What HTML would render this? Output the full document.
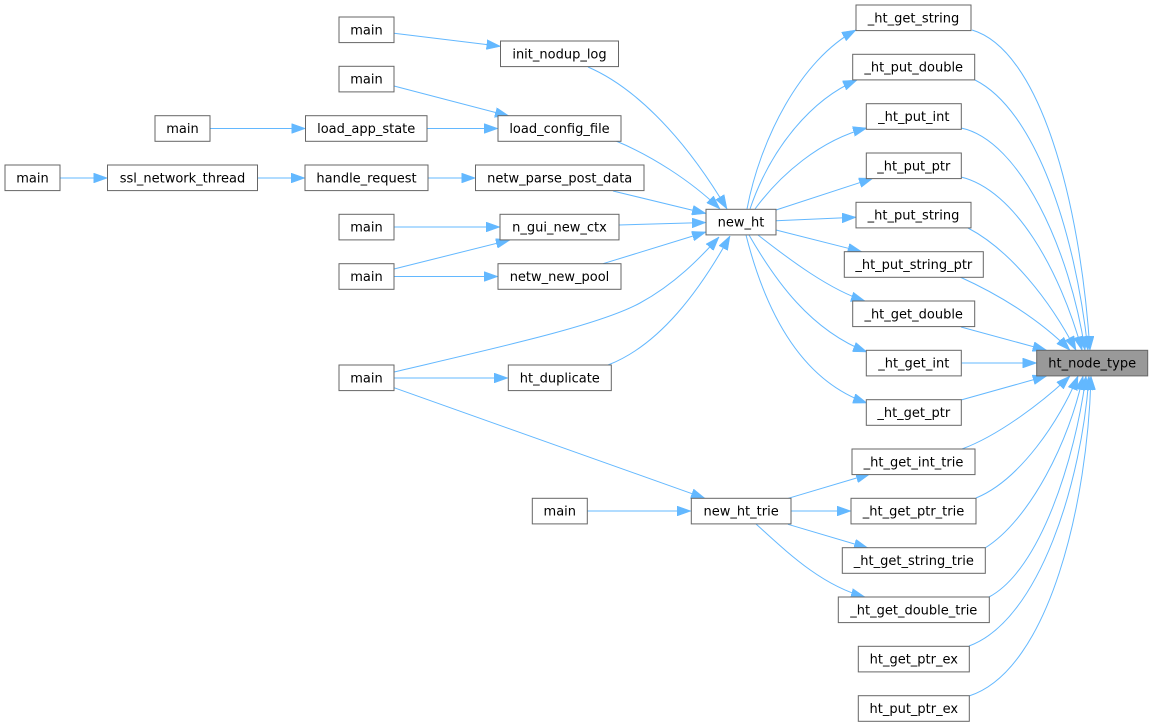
<!DOCTYPE html>
<html>
<head>
<meta charset="utf-8">
<style>
html,body{margin:0;padding:0;background:#fff;}
svg{display:block;}
text{font-family:"DejaVu Sans","Liberation Sans",sans-serif;font-size:13px;fill:#000;text-anchor:middle;}
.n{fill:#fff;stroke:#666;stroke-width:1;}
.e{fill:none;stroke:#63b8ff;stroke-width:1;marker-end:url(#ah);}
</style>
</head>
<body>
<svg width="1153" height="727" viewBox="0 0 1153 727" xmlns="http://www.w3.org/2000/svg">
<defs>
<marker id="ah" markerUnits="userSpaceOnUse" markerWidth="14" markerHeight="10" viewBox="0 0 13.3 9.4" refX="13.3" refY="4.7" orient="auto">
<polygon points="0,0 13.3,4.7 0,9.4" fill="#63b8ff" stroke="#63b8ff" stroke-width="0.5"/>
</marker>
</defs>

<!-- edges left side -->
<path class="e" d="M394,33.3 L500.5,46.3"/>
<path class="e" d="M394,86 L509,116"/>
<path class="e" d="M210,128.5 L305.5,128.5"/>
<path class="e" d="M427,128.5 L498,128.5"/>
<path class="e" d="M60,178 L107.5,178"/>
<path class="e" d="M257.5,178 L305,178"/>
<path class="e" d="M428,178 L475.5,178"/>
<path class="e" d="M394,227 L500,227"/>
<path class="e" d="M394,269 L510,240"/>
<path class="e" d="M394,276.5 L498,276.5"/>
<path class="e" d="M588,67 C630,85 680,130 727,209"/>
<path class="e" d="M616,141 C650,155 690,180 720,209"/>
<path class="e" d="M613,191 L706,213.5"/>
<path class="e" d="M619,225 L706,222.5"/>
<path class="e" d="M603,263.7 L706,232"/>
<path class="e" d="M394,372 C500,347 600,325 640,303 C675,284 700,258 719,237"/>
<path class="e" d="M608,365 C660,345 700,290 730,236"/>
<path class="e" d="M394,378 L508,378"/>
<path class="e" d="M394,387.7 L705,498.3"/>
<path class="e" d="M587,511 L691,511"/>

<!-- new_ht fan-out -->
<path class="e" d="M747,209 C760,140 800,60 856,30"/>
<path class="e" d="M750,209 C770,150 810,100 857,80"/>
<path class="e" d="M755,209 C780,175 820,140 867,128"/>
<path class="e" d="M776,210 L873,178.3"/>
<path class="e" d="M776,220.7 L856,217.3"/>
<path class="e" d="M776,230 L861.7,251.7"/>
<path class="e" d="M758,235 C790,260 830,290 865,301"/>
<path class="e" d="M749,235 C775,280 810,330 867,352"/>
<path class="e" d="M746,235 C765,310 800,380 867,403"/>

<!-- new_ht_trie fan-out -->
<path class="e" d="M788.3,498.3 L870,474"/>
<path class="e" d="M790.7,511 L851,511"/>
<path class="e" d="M788,524.3 L868,548"/>
<path class="e" d="M756,524 C785,550 820,585 865,597"/>

<!-- fan-in to ht_node_type -->
<path class="e" d="M972,30 C1040,50 1080,200 1090,350.3"/>
<path class="e" d="M975,80 C1035,110 1075,230 1088,350.3"/>
<path class="e" d="M961,128 C1020,140 1070,250 1085,350.3"/>
<path class="e" d="M961,177 C1015,190 1060,270 1082,350.3"/>
<path class="e" d="M968,228 C1010,250 1050,300 1076,350.3"/>
<path class="e" d="M960,277 C1000,295 1040,320 1070,350.3"/>
<path class="e" d="M961,327 L1046.7,350.3"/>
<path class="e" d="M961.7,363 L1036.7,363"/>
<path class="e" d="M961,400 L1046.7,376"/>
<path class="e" d="M962,449 C1000,435 1045,400 1070,376"/>
<path class="e" d="M976,498 C1020,480 1060,420 1078,376"/>
<path class="e" d="M985,548 C1030,520 1070,440 1083,376"/>
<path class="e" d="M989,597 C1040,570 1075,460 1086,376"/>
<path class="e" d="M969,646 C1040,620 1082,480 1089,376"/>
<path class="e" d="M969,696 C1050,670 1088,500 1091,376"/>

<!-- nodes -->
<rect class="n" x="339" y="17" width="55" height="25.6"/><text x="366.5" y="34.3">main</text>
<rect class="n" x="500.5" y="41" width="118" height="25.6"/><text x="559.5" y="58.3">init_nodup_log</text>
<rect class="n" x="339" y="66.3" width="55" height="25.6"/><text x="366.5" y="83.6">main</text>
<rect class="n" x="155" y="115.7" width="55" height="25.6"/><text x="182.5" y="133">main</text>
<rect class="n" x="305.5" y="115.7" width="121.5" height="25.6"/><text x="366.2" y="133">load_app_state</text>
<rect class="n" x="498" y="115.7" width="123" height="25.6"/><text x="559.5" y="133">load_config_file</text>
<rect class="n" x="5" y="165" width="55" height="25.6"/><text x="32.5" y="182.3">main</text>
<rect class="n" x="107.5" y="165" width="150" height="25.6"/><text x="182.5" y="182.3">ssl_network_thread</text>
<rect class="n" x="305" y="165" width="123" height="25.6"/><text x="366.5" y="182.3">handle_request</text>
<rect class="n" x="475.5" y="165" width="168.5" height="25.6"/><text x="559.7" y="182.3">netw_parse_post_data</text>
<rect class="n" x="339" y="214.3" width="55" height="25.6"/><text x="366.5" y="231.6">main</text>
<rect class="n" x="500" y="214.3" width="119" height="25.6"/><text x="559.5" y="231.6">n_gui_new_ctx</text>
<rect class="n" x="706" y="209.3" width="70" height="25.6"/><text x="741" y="226.6">new_ht</text>
<rect class="n" x="339" y="263.7" width="55" height="25.6"/><text x="366.5" y="281">main</text>
<rect class="n" x="498" y="263.7" width="123" height="25.6"/><text x="559.5" y="281">netw_new_pool</text>
<rect class="n" x="339" y="365" width="55" height="25.6"/><text x="366.5" y="382.3">main</text>
<rect class="n" x="508.3" y="365" width="103" height="25.6"/><text x="559.8" y="382.3">ht_duplicate</text>
<rect class="n" x="532.3" y="498.3" width="55" height="25.6"/><text x="559.8" y="515.6">main</text>
<rect class="n" x="691.3" y="498.3" width="99.7" height="25.6"/><text x="741.1" y="515.6">new_ht_trie</text>

<rect class="n" x="856" y="5" width="115" height="25.6"/><text x="913.5" y="22.3">_ht_get_string</text>
<rect class="n" x="852.7" y="54.3" width="122" height="25.6"/><text x="913.7" y="71.6">_ht_put_double</text>
<rect class="n" x="866.3" y="103.7" width="95" height="25.6"/><text x="913.8" y="121">_ht_put_int</text>
<rect class="n" x="866.3" y="153" width="95" height="25.6"/><text x="913.8" y="170.3">_ht_put_ptr</text>
<rect class="n" x="856" y="202.3" width="115" height="25.6"/><text x="913.5" y="219.6">_ht_put_string</text>
<rect class="n" x="844.3" y="251.7" width="139" height="25.6"/><text x="913.8" y="269">_ht_put_string_ptr</text>
<rect class="n" x="852.7" y="301" width="122" height="25.6"/><text x="913.7" y="318.3">_ht_get_double</text>
<rect class="n" x="866.3" y="350.3" width="95" height="25.6"/><text x="913.8" y="367.6">_ht_get_int</text>
<rect class="n" x="866.3" y="399.7" width="95" height="25.6"/><text x="913.8" y="417">_ht_get_ptr</text>
<rect class="n" x="852" y="449" width="123" height="25.6"/><text x="913.5" y="466.3">_ht_get_int_trie</text>
<rect class="n" x="851" y="498.3" width="125" height="25.6"/><text x="913.5" y="515.6">_ht_get_ptr_trie</text>
<rect class="n" x="842.3" y="547.7" width="143" height="25.6"/><text x="913.8" y="565">_ht_get_string_trie</text>
<rect class="n" x="838.3" y="597" width="151" height="25.6"/><text x="913.8" y="614.3">_ht_get_double_trie</text>
<rect class="n" x="858.3" y="646.3" width="111" height="25.6"/><text x="913.8" y="663.6">ht_get_ptr_ex</text>
<rect class="n" x="858.3" y="695.7" width="111" height="25.6"/><text x="913.8" y="713">ht_put_ptr_ex</text>

<rect x="1036.7" y="350.3" width="111" height="25.6" fill="#999999" stroke="#666" stroke-width="1"/><text x="1092.2" y="367.6">ht_node_type</text>
</svg>
</body>
</html>
